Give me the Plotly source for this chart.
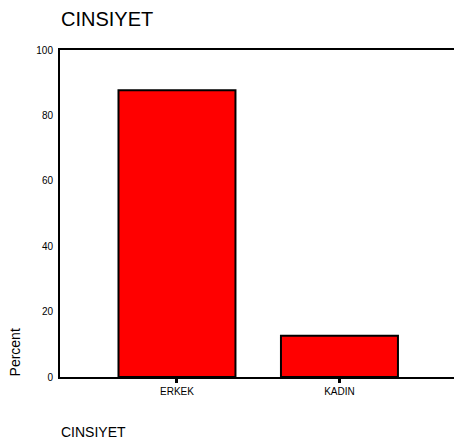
import plotly.graph_objects as go

categories = ["ERKEK", "KADIN"]
percent = [87.7, 12.6]
y_ticks = [0, 20, 40, 60, 80, 100]

FONT = "Arial, Liberation Sans, sans-serif"

fig = go.Figure()
fig.add_trace(go.Bar(
    x=list(range(len(categories))), y=percent, width=0.72,
    marker=dict(color="#ff0000", line=dict(color="black", width=2)),
))

fig.update_layout(
    width=454, height=443,
    margin=dict(l=60, r=0, t=50, b=66),
    paper_bgcolor="white", plot_bgcolor="white",
    showlegend=False,
    font=dict(family=FONT, color="black"),
    xaxis=dict(
        range=[-0.72, 1.705], tickvals=list(range(len(categories))), ticktext=categories,
        showline=True, linecolor="black", linewidth=2, mirror=True,
        ticks="outside", ticklen=4, tickwidth=3, tickcolor="black",
        showgrid=False, zeroline=False, tickfont=dict(size=10, family=FONT),
    ),
    yaxis=dict(
        range=[0, 100], tickvals=y_ticks,
        showline=True, linecolor="black", linewidth=2,
        ticks="outside", ticklen=3, tickcolor="rgba(0,0,0,0)",
        showgrid=False, zeroline=False, tickfont=dict(size=10, family=FONT),
    ),
    annotations=[
        dict(text="CINSIYET", xref="paper", yref="paper", x=-0.003, y=1.0948,
             xanchor="left", yanchor="middle", showarrow=False,
             font=dict(size=20, family=FONT, color="black")),
        dict(text="CINSIYET", xref="paper", yref="paper", x=-0.003, y=-0.167,
             xanchor="left", yanchor="middle", showarrow=False,
             font=dict(size=14, family=FONT, color="black")),
        dict(text="Percent", xref="paper", yref="paper", x=-0.113, y=0.0765,
             xanchor="center", yanchor="middle", showarrow=False, textangle=-90,
             font=dict(size=14, family=FONT, color="black")),
    ],
)

fig.write_html(
    "out.html",
    config={"displayModeBar": False},
    post_script="document.body.style.margin='0';document.body.style.overflow='hidden';",
)
